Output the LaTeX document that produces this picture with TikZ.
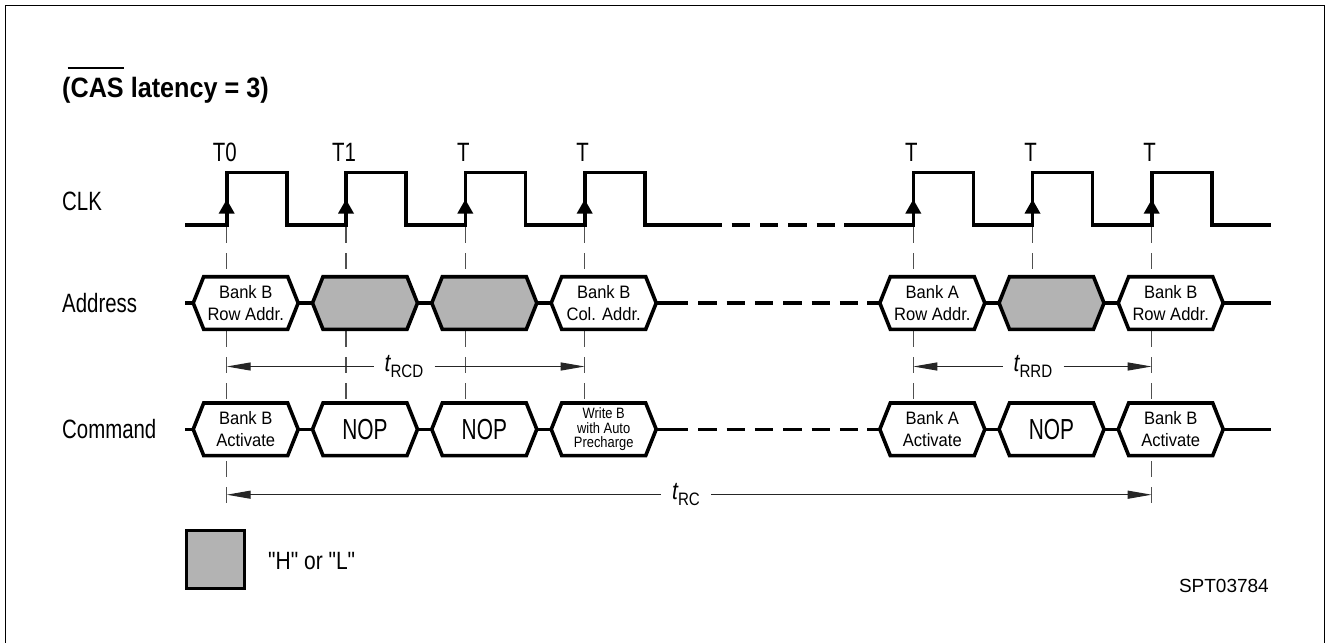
\documentclass[tikz,border=0pt]{standalone}
\usepackage{fontspec}
\setmainfont{Liberation Sans}
\newfontfamily\lblfont[FakeStretch=0.77]{Liberation Sans}
\newfontfamily\nopfont[FakeStretch=0.72]{Liberation Sans}
\newfontfamily\subfont[FakeStretch=0.84]{Liberation Sans}
\newfontfamily\hexfont[FakeStretch=0.92]{Liberation Sans}
\newfontfamily\smlfont[FakeStretch=0.86]{Liberation Sans}
\newfontfamily\ttlfont[FakeStretch=0.9]{Liberation Sans}
\usetikzlibrary{arrows.meta}
\definecolor{hgray}{RGB}{179,179,179}
\definecolor{guidec}{RGB}{80,80,80}
\newcommand\hexsig[6]{%
  \coordinate (#1L) at ({#2-52.5},#3);
  \coordinate (#1R) at ({#2+52.5},#3);
  \filldraw[sig, fill=#4] (#1L) -- ({#2-42},{#3-26.3}) -- ({#2+42},{#3-26.3}) -- (#1R)
     -- ({#2+42},{#3+26.3}) -- ({#2-42},{#3+26.3}) -- cycle;
  \node[hextxt, font=#5] (#1) at (#2,#3) {#6};
}
\newcommand\tsub[1]{{\subfont\fontsize{25}{25}\selectfont\itshape t}\raisebox{-6pt}{\subfont\fontsize{18}{18}\selectfont #1}}
\newcommand\ovl[1]{\setbox0\hbox{#1}\rlap{\hspace{-3pt}\rule[28.5pt]{\dimexpr\wd0+3pt\relax}{1.6pt}}\box0\relax}
\begin{document}
\begin{tikzpicture}[x=1pt,y=-1pt,
  sig/.style={line width=3.6pt, line join=miter},
  sigdash/.style={line width=3.6pt, dash pattern=on 18.3pt off 10pt},
  guide/.style={draw=guidec, line width=1.1pt, dash pattern=on 16pt off 10pt},
  hextxt/.style={align=center, inner sep=0pt},
  rowlbl/.style={anchor=west, inner sep=0pt, font=\lblfont\fontsize{26.5}{26.5}\selectfont},
  tlbl/.style={inner sep=0pt, font=\lblfont\fontsize{26.5}{26.5}\selectfont},
  dimlbl/.style={inner xsep=11pt, inner ysep=2pt},
  dim/.style={draw=black!85, line width=1.1pt, -{Triangle[length=24pt,width=8pt]}},
  edgearrow/.style={fill=black}
]
\useasboundingbox (0,0) rectangle (1329,642);
% frame
\draw[line width=1.5pt] (5.5,650) -- (5.5,5.5) -- (1324.5,5.5) -- (1324.5,650);

% title
\node[anchor=base west, inner sep=0pt, font=\ttlfont\bfseries\fontsize{28}{28}\selectfont] (title) at (62,97)
  {(\ovl{CAS} latency = 3)};

% row labels
\node[rowlbl] (clklbl) at (62,201) {CLK};
\node[rowlbl] (addrlbl) at (62,303) {Address};
\node[rowlbl] (cmdlbl) at (62,429.3) {Command};

% T labels
\foreach \e/\t/\n in {226.7/T0/0,346/T1/1,465.3/T/2,584.7/T/3,913.3/T/4,1032.5/T/5,1151.7/T/6}
  \node[tlbl] (T\n) at ({\e-2},152.5) {\t};

% guide lines
\foreach \e in {226.7,1151.7}
  \draw[guide] (\e,227) -- (\e,503);
\foreach \e in {346,465.3,584.7,913.3}
  \draw[guide] (\e,227) -- (\e,403);
\draw[guide] (1032.5,227) -- (1032.5,277);

% clock
\draw[sig] (185,225) foreach \e in {226.7,346,465.3,584.7} { -- (\e,225) -- (\e,172.3) -- ({\e+60},172.3) -- ({\e+60},225) } -- (722.3,225);
\draw[sigdash] (731.7,225) -- (835,225);
\draw[sig] (844,225) foreach \e in {913.3,1032.5,1151.7} { -- (\e,225) -- (\e,172.3) -- ({\e+60},172.3) -- ({\e+60},225) } -- (1270.7,225);
\foreach \e in {226.7,346,465.3,584.7,913.3,1032.5,1151.7}
  \fill[edgearrow] ({\e-8},213.5) -- (\e,199.5) -- ({\e+8},213.5) -- cycle;

% address row
\hexsig{a1}{245.7}{303}{white}{\hexfont\fontsize{18}{21.7}\selectfont}{Bank B\\Row Addr.}
\hexsig{a2}{365}{303}{hgray}{\hexfont}{}
\hexsig{a3}{484.3}{303}{hgray}{\hexfont}{}
\hexsig{a4}{603.7}{303}{white}{\hexfont\fontsize{18}{21.7}\selectfont}{Bank B\\Col. Addr.}
\hexsig{a5}{932.3}{303}{white}{\hexfont\fontsize{18}{21.7}\selectfont}{Bank A\\Row Addr.}
\hexsig{a6}{1051.5}{303}{hgray}{\hexfont}{}
\hexsig{a7}{1170.7}{303}{white}{\hexfont\fontsize{18}{21.7}\selectfont}{Bank B\\Row Addr.}
\coordinate (a0) at (185,303);
\coordinate (a8) at (1270.7,303);
\coordinate (ad1) at (688.3,303);
\coordinate (ad2) at (698.3,303);
\coordinate (ad3) at (858.1,303);
\coordinate (ad4) at (867,303);
\draw[sig] (a0) -- (a1L);
\draw[sig] (a1R) -- (a2L);
\draw[sig] (a2R) -- (a3L);
\draw[sig] (a3R) -- (a4L);
\draw[sig] (a4R) -- (ad1);
\draw[sigdash] (ad2) -- (ad3);
\draw[sig] (ad4) -- (a5L);
\draw[sig] (a5R) -- (a6L);
\draw[sig] (a6R) -- (a7L);
\draw[sig] (a7R) -- (a8);

% command row
\hexsig{c1}{245.7}{429.3}{white}{\hexfont\fontsize{18}{21.7}\selectfont}{Bank B\\Activate}
\hexsig{c2}{365}{429.3}{white}{\nopfont\fontsize{29}{29}\selectfont}{NOP}
\hexsig{c3}{484.3}{429.3}{white}{\nopfont\fontsize{29}{29}\selectfont}{NOP}
\hexsig{c4}{603.7}{429.3}{white}{\smlfont\fontsize{15}{14.8}\selectfont}{Write B\\with Auto\\Precharge}
\hexsig{c5}{932.3}{429.3}{white}{\hexfont\fontsize{18}{21.7}\selectfont}{Bank A\\Activate}
\hexsig{c6}{1051.5}{429.3}{white}{\nopfont\fontsize{29}{29}\selectfont}{NOP}
\hexsig{c7}{1170.7}{429.3}{white}{\hexfont\fontsize{18}{21.7}\selectfont}{Bank B\\Activate}
\coordinate (c0) at (185,429.3);
\coordinate (c8) at (1270.7,429.3);
\coordinate (cd1) at (688.3,429.3);
\coordinate (cd2) at (698.3,429.3);
\coordinate (cd3) at (858.1,429.3);
\coordinate (cd4) at (867,429.3);
\draw[sig] (c0) -- (c1L);
\draw[sig] (c1R) -- (c2L);
\draw[sig] (c2R) -- (c3L);
\draw[sig] (c3R) -- (c4L);
\draw[sig] (c4R) -- (cd1);
\draw[sigdash] (cd2) -- (cd3);
\draw[sig] (cd4) -- (c5L);
\draw[sig] (c5R) -- (c6L);
\draw[sig] (c6R) -- (c7L);
\draw[sig] (c7R) -- (c8);

% timing dimensions
\coordinate (rcdL) at (226.7,366.5);
\coordinate (rcdR) at (584.7,366.5);
\node[dimlbl] (rcd) at (404,366.5) {\tsub{RCD}};
\draw[dim] (rcd) -- (rcdL);
\draw[dim] (rcd) -- (rcdR);

\coordinate (rrdL) at (913.3,366.5);
\coordinate (rrdR) at (1151.7,366.5);
\node[dimlbl] (rrd) at (1033,366.5) {\tsub{RRD}};
\draw[dim] (rrd) -- (rrdL);
\draw[dim] (rrd) -- (rrdR);

\coordinate (rcL) at (226.7,494.7);
\coordinate (rcR) at (1151.7,494.7);
\node[dimlbl] (rc) at (686,494.7) {\tsub{RC}};
\draw[dim] (rc) -- (rcL);
\draw[dim] (rc) -- (rcR);

% legend
\node[draw, line width=3pt, fill=hgray, minimum size=58pt, inner sep=0pt] (leg) at (215.5,559.5) {};
\node[anchor=west, inner sep=0pt, font=\subfont\fontsize{25}{25}\selectfont] (legtxt) at (268,561) {"H" or "L"};

% id
\node[anchor=base east, inner sep=0pt, font=\fontsize{19}{19}\selectfont] (id) at (1269,592.5) {SPT03784};
\end{tikzpicture}
\end{document}
